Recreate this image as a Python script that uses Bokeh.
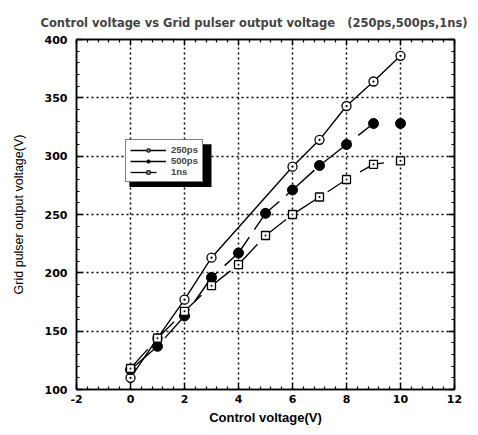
from bokeh.plotting import figure
from bokeh.models import (LinearAxis, SingleIntervalTicker, Legend, LegendItem,
                          BoxAnnotation, CustomJSTickFormatter, Range1d)
from bokeh.embed import file_html
from bokeh.resources import INLINE

# ---- data ----
x_250 = [0, 1, 2, 3, 6, 7, 8, 9, 10]
v_250 = [110, 144, 177, 213, 291, 314, 343, 364, 386]
x_500 = [0, 1, 2, 3, 4, 5, 6, 7, 8, 9, 10]
v_500 = [117, 137, 163, 196, 217, 251, 271, 292, 310, 328, 328]
x_1ns = [0, 1, 2, 3, 4, 5, 6, 7, 8, 9, 10]
v_1ns = [118, 144, 167, 189, 207, 232, 250, 265, 280, 293, 296]
series_labels = ["250ps", "500ps", "1ns"]

FONT = "Liberation Sans"
WIDE = "DejaVu Sans"

p = figure(width=478, height=427, x_range=Range1d(-2, 12), y_range=Range1d(100, 400),
           output_backend="svg", toolbar_location=None,
           min_border_left=76, min_border_right=24, min_border_top=39, min_border_bottom=37)

xa = p.below[0]
ya = p.left[0]

p.title.text = "Control voltage vs Grid pulser output voltage \u00a0 (250ps,500ps,1ns)"
p.title.text_font = WIDE
p.title.text_font_size = "11.5px"
p.title.text_font_style = "bold"
p.title.align = "left"
p.title.offset = -36
p.title.standoff = 20

p.outline_line_color = "black"
p.outline_line_width = 1.5
p.background_fill_color = "white"

xt = SingleIntervalTicker(interval=2, num_minor_ticks=5)
yt = SingleIntervalTicker(interval=50, num_minor_ticks=5)
xa.ticker = xt
ya.ticker = yt
plain = CustomJSTickFormatter(code="return String(tick);")
xa.formatter = plain
ya.formatter = plain

blank = CustomJSTickFormatter(code="return '';")
ta = LinearAxis(ticker=xt, formatter=blank)
ra = LinearAxis(ticker=yt, formatter=blank)
p.add_layout(ta, "above")
p.add_layout(ra, "right")

for ax in (xa, ya, ta, ra):
    ax.axis_line_color = "black"
    ax.axis_line_width = 1.5
    ax.major_tick_in = 6
    ax.major_tick_out = 0
    ax.minor_tick_in = 3
    ax.minor_tick_out = 0
    ax.major_tick_line_color = "black"
    ax.minor_tick_line_color = "black"
    ax.major_tick_line_width = 1.3
    ax.minor_tick_line_width = 1.2
    ax.major_label_text_font = WIDE
    ax.major_label_text_font_style = "bold"
    ax.major_label_text_font_size = "11px"
    ax.major_label_text_color = "black"
ta.major_label_standoff = 0
ra.major_label_standoff = 0

xa.axis_label = "Control voltage(V)"
ya.axis_label = "Grid pulser output voltage(V)"
xa.axis_label_text_font_style = "bold"
ya.axis_label_text_font_style = "normal"
for ax in (xa, ya):
    ax.axis_label_text_font = FONT
    ax.axis_label_text_color = "black"
xa.axis_label_text_font_size = "13px"
ya.axis_label_text_font_size = "12.5px"
xa.major_label_standoff = 5
ya.major_label_standoff = 9
xa.axis_label_standoff = 4
ya.axis_label_standoff = 16

for g in (p.xgrid, p.ygrid):
    g.grid_line_color = "black"
    g.grid_line_dash = "2 3"
    g.grid_line_width = 1.5
    g.grid_line_alpha = 1.0

# ---- series ----
l250 = p.line(x_250, v_250, line_color="black", line_width=1.4)
s250 = p.scatter(x_250, v_250, marker="circle_dot", size=9, fill_color="white",
                 line_color="black", line_width=1.3)

l500 = p.line(x_500[:10], v_500[:10], line_color="black", line_width=1.4, line_dash="38 9")
s500 = p.scatter(x_500, v_500, marker="circle", size=10, fill_color="black",
                 line_color="black")

l1ns = p.line(x_1ns, v_1ns, line_color="black", line_width=1.3, line_dash="26 12")
s1ns = p.scatter(x_1ns, v_1ns, marker="square_dot", size=8, fill_color="white",
                 line_color="black", line_width=1.3)

# ---- legend with drop shadow ----
shadow = BoxAnnotation(left=-0.04, right=3.0, top=310.3, bottom=273.5,
                       fill_color="black", fill_alpha=1.0, line_color=None)
p.add_layout(shadow)

legend = Legend(items=[LegendItem(label=series_labels[0], renderers=[l250, s250]),
                       LegendItem(label=series_labels[1], renderers=[l500, s500]),
                       LegendItem(label=series_labels[2], renderers=[l1ns, s1ns])],
                location=(49, 207), border_line_color="black", border_line_width=1.5,
                background_fill_color="white", background_fill_alpha=1.0,
                label_text_font=FONT, label_text_font_style="bold",
                label_text_font_size="9.5px", glyph_width=36, glyph_height=8,
                label_height=8, spacing=0, padding=4, margin=0, label_standoff=5)
p.add_layout(legend, "center")

open("out.html", "w").write(file_html(p, INLINE))
